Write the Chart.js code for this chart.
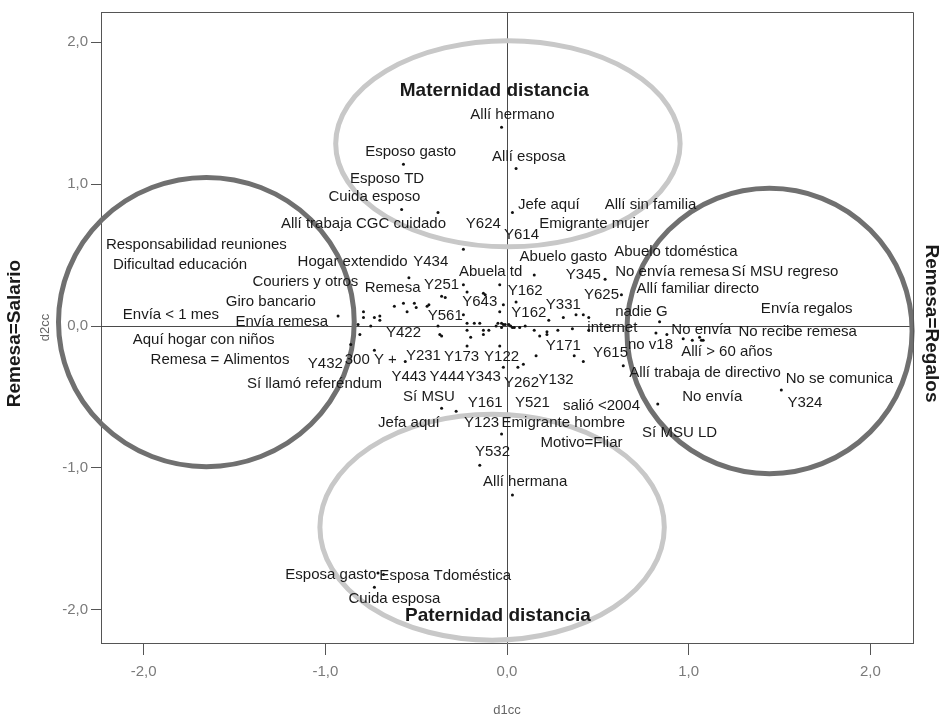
<!DOCTYPE html>
<html>
<head>
<meta charset="utf-8">
<script src="https://cdn.jsdelivr.net/npm/chart.js@4.4.1/dist/chart.umd.min.js"></script>
<style>
  html, body { margin: 0; padding: 0; background: #fff; }
  #wrap { width: 945px; height: 719px; }
</style>
</head>
<body>
<div id="wrap"><canvas id="chart" width="945" height="719"></canvas></div>
<script>
// puntos (d1cc, d2cc)
const pointX = [-0.03, 0.05, -0.57, -0.58, -0.38, 0.03, -0.24, 0.15, 0.54, 0.63,
  -0.54, -0.24, -0.04, -0.22, -0.13, -0.12, -0.36, -0.34, -0.02, 0.05,
  -0.43, -0.04, -0.24, 0.23, -0.22, -0.18, -0.15, -0.05, -0.03, -0.38,
  -0.06, -0.03, -0.02, -0.01, 0.01, 0.02, 0.03, 0.04, 0.07, 0.10,
  -0.22, -0.13, -0.10, -0.36, -0.37, -0.20, -0.13, 0.15, 0.18, 0.22,
  -0.22, -0.04, 0.16, 0.09, -0.02, -0.93, -0.79, -0.79, -0.73, -0.70,
  -0.70, -0.82, -0.75, -0.62, -0.57, -0.55, -0.51, -0.50, -0.44, -0.81,
  -0.86, -0.73, -0.56, 0.31, 0.38, 0.42, 0.45, 0.22, 0.28, 0.36,
  0.45, 0.84, 0.82, 0.88, 0.97, 1.02, 1.06, 1.07, 1.08, 0.37,
  0.42, 0.64, 0.83, 1.51, -0.36, -0.28, -0.03, -0.15, 0.03, -0.71,
  -0.68, -0.73, 0.06];
const pointY = [1.40, 1.11, 1.14, 0.82, 0.80, 0.80, 0.54, 0.36, 0.33, 0.22,
  0.34, 0.29, 0.29, 0.24, 0.23, 0.22, 0.21, 0.20, 0.15, 0.17,
  0.15, 0.10, 0.08, 0.04, 0.02, 0.02, 0.02, 0.02, 0.02, 0.00,
  0.00, -0.01, 0.01, 0.01, 0.01, 0.00, -0.01, -0.01, -0.01, 0.00,
  -0.03, -0.03, -0.03, -0.07, -0.06, -0.08, -0.06, -0.03, -0.07, -0.06,
  -0.14, -0.14, -0.21, -0.27, -0.29, 0.07, 0.10, 0.06, 0.06, 0.07,
  0.04, 0.01, 0.00, 0.14, 0.16, 0.10, 0.16, 0.13, 0.14, -0.06,
  -0.13, -0.17, -0.25, 0.06, 0.08, 0.08, 0.06, -0.04, -0.03, -0.02,
  -0.03, 0.03, -0.05, -0.06, -0.09, -0.10, -0.08, -0.10, -0.10, -0.21,
  -0.25, -0.28, -0.55, -0.45, -0.58, -0.60, -0.76, -0.98, -1.19, -1.74,
  -1.75, -1.84, -0.29];

// etiquetas de categorías
const labelText = ["Allí hermano", "Esposo gasto", "Allí esposa", "Esposo TD", "Cuida esposo",
  "Jefe aquí", "Allí sin familia", "Allí trabaja CGC cuidado", "Y624", "Y614",
  "Emigrante mujer", "Responsabilidad reuniones", "Dificultad educación", "Hogar extendido", "Y434",
  "Abuela td", "Abuelo gasto", "Abuelo tdoméstica", "Y345", "No envía remesa",
  "Sí MSU regreso", "Couriers y otros", "Remesa", "Y251", "Y162",
  "Y643", "Y331", "Y625", "Allí familiar directo", "Giro bancario",
  "Envía < 1 mes", "Envía remesa", "Y561", "Y162", "nadie G",
  "Envía regalos", "internet", "No envía", "No recibe remesa", "Y422",
  "Aquí hogar con niños", "Y171", "no v18", "Allí > 60 años", "Y615",
  "Remesa = Alimentos", "Y432", "300 Y +", "Y231", "Y173",
  "Y122", "Allí trabaja de directivo", "No se comunica", "Sí llamó referéndum", "Y443",
  "Y444", "Y343", "Y262", "Y132", "No envía",
  "Y324", "Sí MSU", "Y161", "Y521", "salió <2004",
  "Jefa aquí", "Y123", "Emigrante hombre", "Sí MSU LD", "Motivo=Fliar",
  "Y532", "Allí hermana", "Esposa gasto", "Esposa Tdoméstica", "Cuida esposa"];
const labelX = [0.03, -0.53, 0.12, -0.66, -0.73,
  0.23, 0.79, -0.79, -0.13, 0.08,
  0.48, -1.71, -1.80, -0.85, -0.42,
  -0.09, 0.31, 0.93, 0.42, 0.91,
  1.53, -1.11, -0.63, -0.36, 0.10,
  -0.15, 0.31, 0.52, 1.05, -1.30,
  -1.85, -1.24, -0.34, 0.12, 0.74,
  1.65, 0.58, 1.07, 1.60, -0.57,
  -1.67, 0.31, 0.79, 1.21, 0.57,
  -1.58, -1.00, -0.75, -0.46, -0.25,
  -0.03, 1.09, 1.83, -1.06, -0.54,
  -0.33, -0.13, 0.08, 0.27, 1.13,
  1.64, -0.43, -0.12, 0.14, 0.52,
  -0.54, -0.14, 0.31, 0.95, 0.41,
  -0.08, 0.10, -0.97, -0.34, -0.62];
const labelY = [1.49, 1.23, 1.19, 1.04, 0.91,
  0.85, 0.85, 0.72, 0.72, 0.64,
  0.72, 0.57, 0.43, 0.45, 0.45,
  0.38, 0.49, 0.52, 0.36, 0.38,
  0.38, 0.31, 0.27, 0.29, 0.25,
  0.17, 0.15, 0.22, 0.26, 0.17,
  0.08, 0.03, 0.07, 0.09, 0.10,
  0.12, -0.01, -0.03, -0.04, -0.05,
  -0.10, -0.14, -0.13, -0.18, -0.19,
  -0.24, -0.27, -0.24, -0.21, -0.22,
  -0.22, -0.33, -0.37, -0.41, -0.36,
  -0.36, -0.36, -0.40, -0.38, -0.50,
  -0.54, -0.50, -0.54, -0.54, -0.56,
  -0.68, -0.68, -0.68, -0.75, -0.82,
  -0.89, -1.10, -1.75, -1.76, -1.92];

// títulos de grupo
const groupText = ["Maternidad distancia", "Paternidad distancia"];
const groupX = [-0.07, -0.05];
const groupY = [1.66, -2.04];

// regiones (elipses) en unidades de los ejes
const regionCx = [-1.655, 1.445, 0.005, -0.082];
const regionCy = [0.028, -0.035, 1.284, -1.417];
const regionRx = [0.814, 0.785, 0.948, 0.948];
const regionRy = [1.019, 1.005, 0.726, 0.796];
const regionDark = [true, true, false, false];

const tickValues = [-2, -1, 0, 1, 2];

const FONT = "'Liberation Sans', Arial, sans-serif";

function fmtTick(v) {
  return Number(v).toFixed(1).replace(".", ",");
}

const overlay = {
  id: "overlay",
  beforeDatasetsDraw(chart) {
    const { ctx, chartArea: a, scales: { x, y } } = chart;
    ctx.save();
    // líneas del cero
    const x0 = Math.round(x.getPixelForValue(0)) + 0.5;
    const y0 = Math.round(y.getPixelForValue(0)) + 0.5;
    ctx.strokeStyle = "#4a4a4a";
    ctx.lineWidth = 1;
    ctx.beginPath();
    ctx.moveTo(x0, a.top);
    ctx.lineTo(x0, a.bottom);
    ctx.moveTo(a.left, y0);
    ctx.lineTo(a.right, y0);
    ctx.stroke();
    // elipses
    regionCx.forEach((cx, i) => {
      const px = x.getPixelForValue(cx);
      const py = y.getPixelForValue(regionCy[i]);
      const rx = x.getPixelForValue(cx + regionRx[i]) - px;
      const ry = py - y.getPixelForValue(regionCy[i] + regionRy[i]);
      ctx.strokeStyle = regionDark[i] ? "#707070" : "#c8c8c8";
      ctx.lineWidth = 5;
      ctx.beginPath();
      ctx.ellipse(px, py, rx, ry, 0, 0, Math.PI * 2);
      ctx.stroke();
    });
    ctx.restore();
  },
  afterDatasetsDraw(chart) {
    const { ctx, scales: { x, y } } = chart;
    ctx.save();
    ctx.fillStyle = "#1a1a1a";
    ctx.textAlign = "center";
    ctx.textBaseline = "middle";
    ctx.font = `15px ${FONT}`;
    labelText.forEach((t, i) => {
      ctx.fillText(t, x.getPixelForValue(labelX[i]), y.getPixelForValue(labelY[i]));
    });
    ctx.font = `bold 19px ${FONT}`;
    groupText.forEach((t, i) => {
      ctx.fillText(t, x.getPixelForValue(groupX[i]), y.getPixelForValue(groupY[i]));
    });
    ctx.restore();
  },
  afterDraw(chart) {
    const { ctx, chartArea: a } = chart;
    ctx.save();
    // marco superior y derecho
    ctx.strokeStyle = "#555";
    ctx.lineWidth = 1;
    ctx.beginPath();
    ctx.moveTo(a.left, a.top + 0.5);
    ctx.lineTo(a.right + 0.5, a.top + 0.5);
    ctx.lineTo(a.right + 0.5, a.bottom);
    ctx.stroke();

    const midY = (a.top + a.bottom) / 2;
    // títulos de ejes
    ctx.fillStyle = "#666";
    ctx.font = `13px ${FONT}`;
    ctx.textAlign = "center";
    ctx.textBaseline = "middle";
    ctx.fillText("d1cc", chart.scales.x.getPixelForValue(0), 710);
    ctx.save();
    ctx.translate(45, midY);
    ctx.rotate(-Math.PI / 2);
    ctx.fillText("d2cc", 0, 0);
    ctx.restore();

    ctx.fillStyle = "#1a1a1a";
    ctx.font = `bold 19px ${FONT}`;
    ctx.save();
    ctx.translate(15, midY + 6);
    ctx.rotate(-Math.PI / 2);
    ctx.fillText("Remesa=Salario", 0, 0);
    ctx.restore();
    ctx.save();
    ctx.translate(931, midY - 4);
    ctx.rotate(Math.PI / 2);
    ctx.fillText("Remesa=Regalos", 0, 0);
    ctx.restore();
    ctx.restore();
  }
};

new Chart(document.getElementById("chart"), {
  type: "scatter",
  data: {
    datasets: [{
      data: pointX.map((v, i) => ({ x: v, y: pointY[i] })),
      pointRadius: 1.5,
      pointBackgroundColor: "#111",
      pointBorderWidth: 0
    }]
  },
  options: {
    responsive: false,
    animation: false,
    layout: { padding: { top: 6, right: 32, left: 0, bottom: 0 } },
    plugins: { legend: { display: false }, tooltip: { enabled: false } },
    scales: {
      x: {
        type: "linear",
        min: -2.235,
        max: 2.235,
        afterBuildTicks: (s) => { s.ticks = tickValues.map(v => ({ value: v })); },
        afterFit: (s) => { s.height = 76; },
        grid: { drawOnChartArea: false, drawTicks: true, tickLength: 12, color: "#555" },
        border: { display: true, color: "#555" },
        ticks: { callback: fmtTick, color: "#7a7a7a", font: { size: 15, family: FONT }, padding: 8, maxRotation: 0 }
      },
      y: {
        type: "linear",
        min: -2.233,
        max: 2.212,
        afterBuildTicks: (s) => { s.ticks = tickValues.map(v => ({ value: v })); },
        afterFit: (s) => { s.width = 101; },
        grid: { drawOnChartArea: false, drawTicks: true, tickLength: 10, color: "#555" },
        border: { display: true, color: "#555" },
        ticks: { callback: fmtTick, color: "#7a7a7a", font: { size: 15, family: FONT }, padding: 3 }
      }
    }
  },
  plugins: [overlay]
});
</script>
</body>
</html>
